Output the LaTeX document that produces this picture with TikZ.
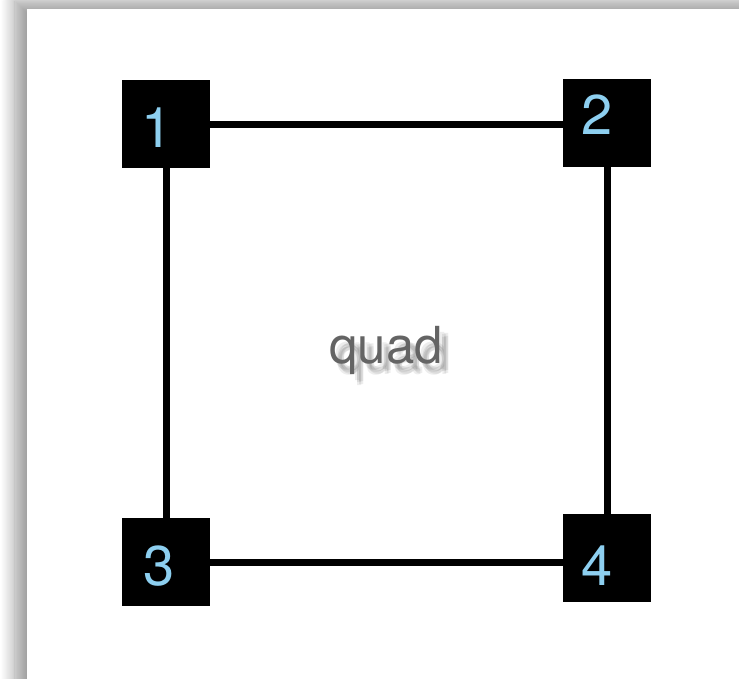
\documentclass[tikz,border=0pt]{standalone}
\usepackage{fontspec}
\setmainfont{TeX Gyre Heros}
\usetikzlibrary{shadows.blur}
\definecolor{numblue}{RGB}{141,207,240}
\definecolor{quadgray}{RGB}{100,100,100}

\begin{document}
\begin{tikzpicture}[x=1pt,y=-1pt,
    corner/.style={fill=black, minimum size=88pt, inner sep=0pt},
    num/.style={text=numblue, font=\fontsize{56}{60}\selectfont, inner sep=0pt},
    edge/.style={line width=7pt}]
\useasboundingbox (0,0) rectangle (739,678);
% card with its shadow
\fill[white, blur shadow={shadow xshift=-12pt, shadow yshift=8pt,
    shadow blur radius=14pt, shadow opacity=40, shadow blur steps=12}] (27,9) rectangle (800,720);

% the four corners
\node[corner] (c1) at (166,124) {};
\node[corner] (c2) at (607,123) {};
\node[corner] (c3) at (166,562) {};
\node[corner] (c4) at (607,558) {};

\node[num] (n1) at (157,128) {1};
\node[num] (n2) at (597,115) {2};
\node[num] (n3) at (159,566) {3};
\node[num] (n4) at (597,566) {4};

% sides
\draw[edge] (c1) -- (c1 -| c2.west);
\draw[edge] (c1) -- (c3);
\draw[edge] (c2) -- (c4);
\draw[edge] (c3) -- (c3 -| c4.west);

% label with soft shadow
\foreach \dx/\dy in {5/6,7/8,9/10,7/11,9/7}
  \node[anchor=base, text=black, opacity=0.07, font=\fontsize{51}{56}\selectfont]
    at (386+\dx,363+\dy) {quad};
\node[anchor=base, text=quadgray, font=\fontsize{51}{56}\selectfont] (q) at (386,363) {quad};
\end{tikzpicture}
\end{document}
